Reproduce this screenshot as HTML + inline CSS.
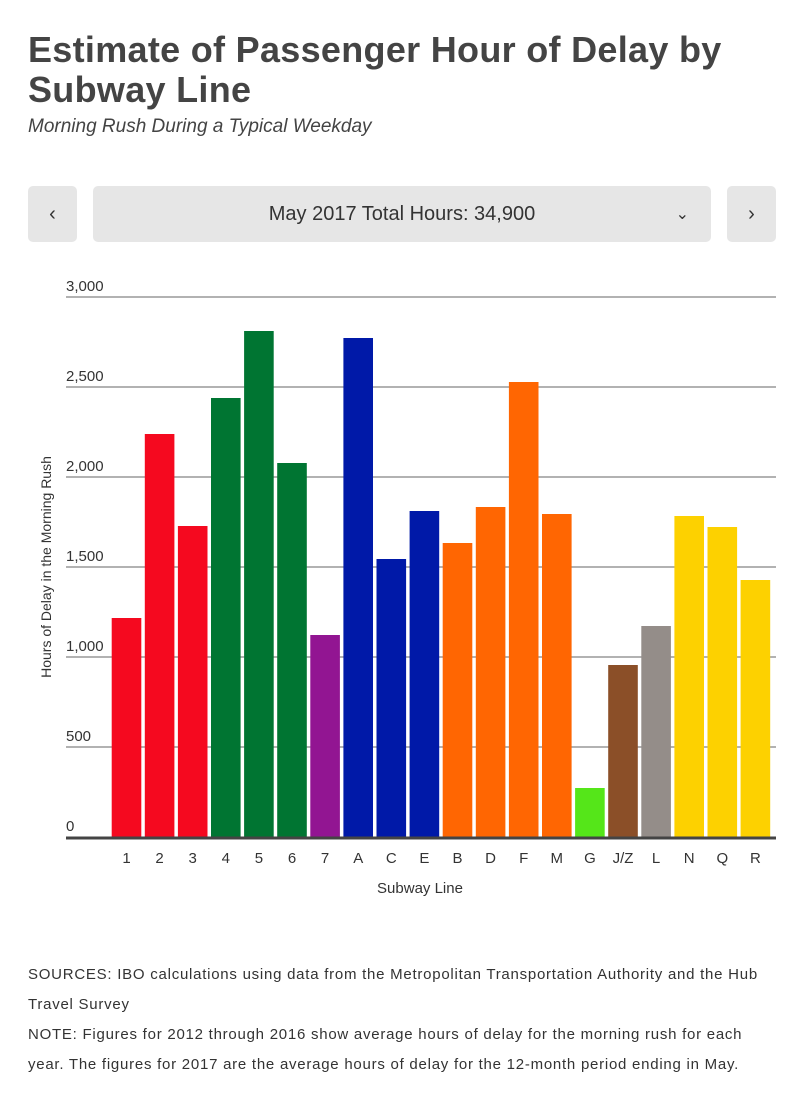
<!DOCTYPE html>
<html><head><meta charset="utf-8"><style>
body{margin:0;background:#fff;width:804px;height:1097px;overflow:hidden;font-family:"Liberation Sans",sans-serif;color:#444}
h1{position:absolute;left:28px;top:30px;margin:0;font-size:36px;line-height:40px;font-weight:bold;color:#444;letter-spacing:0.3px}
.sub{position:absolute;left:28px;top:116px;font-size:19px;font-style:italic;color:#444}
.btn{position:absolute;top:186px;height:56px;background:#e6e6e6;border-radius:5px;font-size:20px;color:#333;display:flex;align-items:center;justify-content:center}
.notes{position:absolute;left:28px;top:960px;font-size:15px;line-height:30px;color:#333;letter-spacing:0.75px;white-space:nowrap}
</style></head><body>
<h1>Estimate of Passenger Hour of Delay by<br>Subway Line</h1>
<div class="sub">Morning Rush During a Typical Weekday</div>
<div class="btn" style="left:28px;width:49px">&#8249;</div>
<div class="btn" style="left:93px;width:618px">May 2017 Total Hours: 34,900<span style="position:absolute;right:22px;font-size:16px">&#8964;</span></div>
<div class="btn" style="left:727px;width:49px">&#8250;</div>
<svg width="804" height="1097" style="position:absolute;left:0;top:0" font-family="Liberation Sans, sans-serif">
<g stroke="#999" stroke-width="1.5">
<line x1="66" x2="776" y1="297" y2="297"/><line x1="66" x2="776" y1="387" y2="387"/><line x1="66" x2="776" y1="477" y2="477"/><line x1="66" x2="776" y1="567" y2="567"/><line x1="66" x2="776" y1="657" y2="657"/><line x1="66" x2="776" y1="747" y2="747"/>
</g>
<g font-size="15" fill="#333">
<text x="66" y="291">3,000</text><text x="66" y="381">2,500</text><text x="66" y="471">2,000</text><text x="66" y="561">1,500</text><text x="66" y="651">1,000</text><text x="66" y="741">500</text><text x="66" y="831">0</text>
</g>
<g id="bars"></g>
<line x1="66" x2="776" y1="838" y2="838" stroke="#444" stroke-width="3"/>
<g id="labs" font-size="15" fill="#333" text-anchor="middle"></g>
<text x="420" y="893" font-size="15" fill="#333" text-anchor="middle">Subway Line</text>
<text transform="translate(51,567) rotate(-90)" font-size="14" fill="#333" text-anchor="middle">Hours of Delay in the Morning Rush</text>
</svg>
<div class="notes">SOURCES: IBO calculations using data from the Metropolitan Transportation Authority and the Hub<br>Travel Survey<br>NOTE: Figures for 2012 through 2016 show average hours of delay for the morning rush for each<br>year. The figures for 2017 are the average hours of delay for the 12-month period ending in May.</div>
<script>
var d=[["1",618,"#f5091f"],["2",434,"#f5091f"],["3",526,"#f5091f"],["4",398,"#007532"],["5",331,"#007532"],["6",463,"#007532"],["7",635,"#921592"],["A",338,"#0019a8"],["C",559,"#0019a8"],["E",511,"#0019a8"],["B",543,"#ff6602"],["D",507,"#ff6602"],["F",382,"#ff6602"],["M",514,"#ff6602"],["G",788,"#55e619"],["J/Z",665,"#8b4f28"],["L",626,"#948d89"],["N",516,"#fdd100"],["Q",527,"#fdd100"],["R",580,"#fdd100"]];
var b="",l="";
d.forEach(function(e,i){var x=111.7+i*33.1;b+='<rect x="'+x+'" y="'+e[1]+'" width="29.6" height="'+(838-e[1])+'" fill="'+e[2]+'"/>';l+='<text x="'+(x+14.8)+'" y="863">'+e[0]+'</text>';});
document.getElementById("bars").innerHTML=b;document.getElementById("labs").innerHTML=l;
</script>
</body></html>
